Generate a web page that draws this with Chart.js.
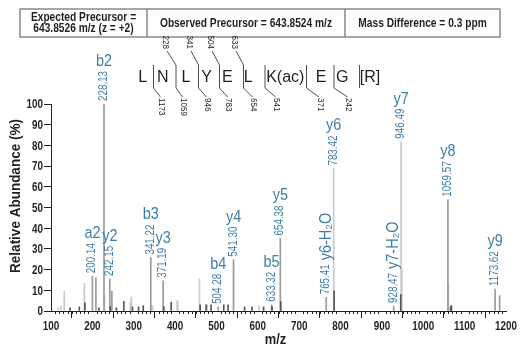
<!DOCTYPE html>
<html><head><meta charset="utf-8">
<script src="https://cdn.jsdelivr.net/npm/chart.js@4.4.1/dist/chart.umd.min.js"></script>
<style>html,body{margin:0;padding:0;background:#fff}#wrap{position:relative;width:520px;height:350px}canvas{display:block}</style>
</head><body><div id="wrap"><canvas id="c" width="520" height="350"></canvas></div>
<script>
// ---------------- DATA ----------------
const xTicks = [100,200,300,400,500,600,700,800,900,1000,1100,1200];
const yTicks = [0,10,20,30,40,50,60,70,80,90,100];
// medium-gray peaks
const mzMain  = [200.14, 208.6, 228.13, 242.15, 247.2, 341.22, 371.19, 504.28, 541.30, 633.32, 654.38, 765.41, 928.47, 1059.57, 1173.62, 1184.6];
const intMain = [16.8,   16.0,  100,    15.5,   9.5,   25.8,   14.6,   2.0,    24.8,   3.0,    35.0,   6.6,    2.4,    53.7,    10.6,    7.4];
// light-gray peaks
const mzLight  = [117, 124, 132, 180.6, 229.1, 291.6, 294, 342.3, 345.5, 405, 406.5, 459, 477.5, 603, 783.42, 946.49, 948.2, 1060.6];
const intLight = [1.5, 2.4, 9.5, 13.3,  7.0,   4.0,   6.7, 2.5,   2.5,   5.0, 4.5,   15.6, 3.0,  2.5, 68.8,   81.8,   20.3,  13.8];
// dark peaks
const mzDark  = [146, 168.5, 182, 215.9, 243.2, 258, 276, 297, 311.7, 323, 372.8, 390.6, 460.6, 475, 487, 517.6, 528, 568, 586, 614, 634.4, 655.4, 784.4, 945.5, 1066, 1068];
const intDark = [1.5, 2.0,   4.0, 1.5,   2.0,   1.5, 4.6, 2.0, 2.0,   2.6, 2.0,   4.3,   3.0,   3.0, 3.0, 3.0,   3.0, 2.0, 2.0, 2.0, 2.0,   4.5,   9.8,   8.0,   2.0,  2.7];
// annotated ions
const labelMz  = [200.14, 242.15, 228.13, 341.22, 371.19, 504.28, 541.30, 633.32, 654.38, 765.41, 783.42, 928.47, 946.49, 1059.57, 1173.62];
const labelIon = ['a2','y2','b2','b3','y3','b4','y4','b5','y5','y6-H₂O','y6','y7-H₂O','y7','y8','y9'];
// texts, header & sequence
const xTitle = 'm/z';
const yTitle = 'Relative Abundance (%)';
const headerCells = [['Expected Precursor =','643.8526 m/z (z = +2)'], ['Observed Precursor = 643.8524 m/z'], ['Mass Difference = 0.3 ppm']];
const residues = ['L','N','L','Y','E','L','K(ac)','E','G','[R]'];
const bIons = [null, '228', '341', '504', '633', null, null, null, null];
const yIons = ['1173', '1059', '946', '783', '654', '541', '371', '242', null];

// ---------------- LAYOUT / STYLE ----------------
const SANS = "'Liberation Sans',Arimo,Arial,sans-serif";
const CX = 0.82; // horizontal condensing factor (Helvetica Condensed look)
const INK = '#231f20';
const BLUE = '#3d7ea6';
const resX = [142.7, 162.7, 186, 206.7, 227.3, 248.3, 285.3, 321, 342.3, 370];
const sepX = [153.5, 176, 198.5, 219.5, 243.5, 265, 306.5, 334, 359.5];
const topNumX = [null, 165, 189, 210, 234];
const botNumX = [161.5, 183.5, 207.5, 228.5, 253.5, 276.5, 320, 348.5];

const pts = (xs, ys) => xs.map((x, i) => ({x, y: ys[i]}));
function peakHeight(mz) {
  let best = 0;
  [[mzMain,intMain],[mzLight,intLight],[mzDark,intDark]].forEach(([xs,ys]) => {
    xs.forEach((x,i) => { if (Math.abs(x-mz) < 0.05) best = Math.max(best, ys[i]); });
  });
  return best;
}
function txt(ctx, s, x, y, font, align, baseline, rot, sx) {
  ctx.save(); ctx.translate(x, y); if (rot) ctx.rotate(rot); ctx.scale(sx, 1);
  ctx.font = font; ctx.textAlign = align; ctx.textBaseline = baseline;
  ctx.fillText(s, 0, 0); ctx.restore();
}
function tw(ctx, s, font, sx) { ctx.save(); ctx.font = font; const w = ctx.measureText(s).width * sx; ctx.restore(); return w; }

const decor = {
  id: 'decor',
  afterDraw(chart) {
    const ctx = chart.ctx, xs = chart.scales.x, ys = chart.scales.y, ca = chart.chartArea;
    ctx.save();
    // minor ticks on x axis
    ctx.strokeStyle = INK; ctx.lineWidth = 1;
    for (let v = 110; v < 1200; v += 10) {
      if (v % 100 === 0) continue;
      const px = Math.round(xs.getPixelForValue(v)) + 0.5;
      ctx.beginPath(); ctx.moveTo(px, ca.bottom); ctx.lineTo(px, ca.bottom + 3); ctx.stroke();
    }
    // tick labels
    ctx.fillStyle = INK;
    const tickFont = 'bold 12px ' + SANS;
    xTicks.forEach(v => txt(ctx, String(v), xs.getPixelForValue(v), ca.bottom + 19, tickFont, 'center', 'alphabetic', 0, CX));
    yTicks.forEach(v => txt(ctx, String(v), ca.left - 8, ys.getPixelForValue(v) + 4.3, tickFont, 'right', 'alphabetic', 0, CX));
    // axis titles
    const titleFont = 'bold 15px ' + SANS;
    txt(ctx, xTitle, (ca.left + ca.right) / 2 - 3, ca.bottom + 32.5, titleFont, 'center', 'alphabetic', 0, 0.86);
    txt(ctx, yTitle, 19.5, 196, titleFont, 'center', 'alphabetic', -Math.PI/2, 0.9);
    // peak labels
    ctx.fillStyle = BLUE;
    const mzFont = '12px ' + SANS, ionFont = '17px ' + SANS;
    labelMz.forEach((mz, i) => {
      const px = xs.getPixelForValue(mz), py = ys.getPixelForValue(peakHeight(mz));
      const s = mz.toFixed(2);
      const L = tw(ctx, s, mzFont, CX);
      txt(ctx, s, px + 3, py - 3, mzFont, 'left', 'alphabetic', -Math.PI/2, CX);
      const ion = labelIon[i];
      if (ion.indexOf('H₂O') >= 0) {
        ctx.save(); ctx.translate(px + 4.5, py - 3 - L - 4); ctx.rotate(-Math.PI/2);
        txt(ctx, ion, 0, 0, ionFont, 'left', 'alphabetic', 0, 0.85); ctx.restore();
      } else {
        txt(ctx, ion, px, py - 3 - L - 5, ionFont, 'center', 'alphabetic', 0, 0.85);
      }
    });
    // header table
    ctx.strokeStyle = '#6d6d6d'; ctx.lineWidth = 1.2;
    const hx = [20, 147, 345, 500], hy0 = 9, hy1 = 37;
    ctx.strokeRect(hx[0], hy0, hx[3]-hx[0], hy1-hy0);
    ctx.beginPath(); ctx.moveTo(hx[1], hy0); ctx.lineTo(hx[1], hy1); ctx.moveTo(hx[2], hy0); ctx.lineTo(hx[2], hy1); ctx.stroke();
    ctx.fillStyle = INK;
    const hFont = 'bold 12px ' + SANS;
    headerCells.forEach((lines, i) => {
      const cx = (hx[i] + hx[i+1]) / 2;
      if (lines.length === 1) txt(ctx, lines[0], cx, 27, hFont, 'center', 'alphabetic', 0, 0.85);
      else { txt(ctx, lines[0], cx, 20.5, hFont, 'center', 'alphabetic', 0, 0.85); txt(ctx, lines[1], cx, 32, hFont, 'center', 'alphabetic', 0, 0.85); }
    });
    // sequence
    residues.forEach((r, i) => txt(ctx, r, resX[i], 82, '16px ' + SANS, 'center', 'alphabetic', 0, 1));
    ctx.strokeStyle = INK; ctx.lineWidth = 0.8;
    const nFont = '9px ' + SANS;
    sepX.forEach((x, i) => {
      ctx.beginPath(); ctx.moveTo(x, 65); ctx.lineTo(x, 88); ctx.stroke();
      if (bIons[i]) {
        ctx.beginPath(); ctx.moveTo(topNumX[i] + 2, 51); ctx.lineTo(x, 65); ctx.stroke();
        txt(ctx, bIons[i], topNumX[i], 49, nFont, 'right', 'middle', Math.PI/2, 0.9);
      }
      if (yIons[i]) {
        ctx.beginPath(); ctx.moveTo(x, 88); ctx.lineTo(botNumX[i] - 1, 97); ctx.stroke();
        txt(ctx, yIons[i], botNumX[i], 98, nFont, 'left', 'middle', Math.PI/2, 0.9);
      }
    });
    ctx.restore();
  }
};

const barOpts = {barThickness: 1, grouped: false, borderWidth: 0};
new Chart(document.getElementById('c'), {
  type: 'bar',
  data: {
    datasets: [
      Object.assign({label: 'dark', data: pts(mzDark, intDark), backgroundColor: '#555555'}, barOpts),
      Object.assign({label: 'main', data: pts(mzMain, intMain), backgroundColor: '#9a9a9a'}, barOpts),
      Object.assign({label: 'light', data: pts(mzLight, intLight), backgroundColor: '#c9c9c9'}, barOpts)
    ]
  },
  options: {
    responsive: false, animation: false, devicePixelRatio: 1,
    layout: {padding: {top: 104, right: 14, left: 0, bottom: 0}},
    plugins: {legend: {display: false}, tooltip: {enabled: false}},
    scales: {
      x: {
        type: 'linear', min: 100, max: 1200, offset: false,
        afterBuildTicks: (s) => { s.ticks = xTicks.map(v => ({value: v})); },
        afterFit: (s) => { s.height = 39; },
        grid: {drawOnChartArea: false, drawTicks: true, tickLength: 7, tickColor: INK, tickWidth: 1},
        border: {display: true, color: INK, width: 1},
        ticks: {display: false}
      },
      y: {
        min: 0, max: 100,
        afterBuildTicks: (s) => { s.ticks = yTicks.map(v => ({value: v})); },
        afterFit: (s) => { s.width = 51; },
        grid: {drawOnChartArea: false, drawTicks: true, tickLength: 7, tickColor: INK, tickWidth: 1},
        border: {display: true, color: INK, width: 1},
        ticks: {display: false}
      }
    }
  },
  plugins: [decor]
});
</script>
</body></html>
